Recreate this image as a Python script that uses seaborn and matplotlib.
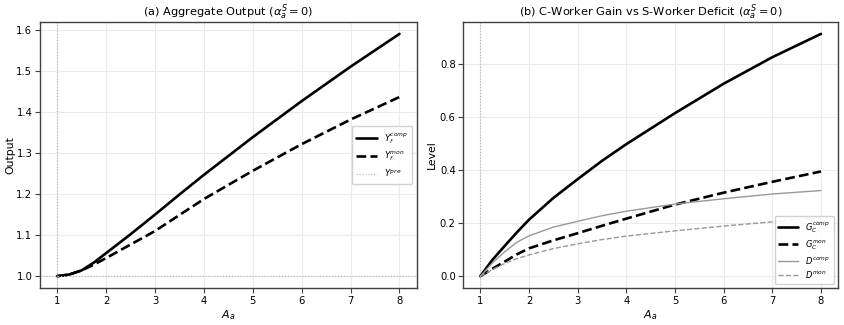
import matplotlib
matplotlib.use("Agg")
import matplotlib.pyplot as plt
import seaborn as sns
import pandas as pd

A = [1.0, 1.25, 1.5, 1.75, 2.0, 2.5, 3.0, 3.5, 4.0, 5.0, 6.0, 7.0, 8.0]

Y_comp = [1.0, 1.004, 1.014, 1.033, 1.056, 1.102, 1.150, 1.199, 1.247, 1.339, 1.427, 1.511, 1.591]
Y_mon = [1.0, 1.004, 1.014, 1.028, 1.044, 1.077, 1.110, 1.149, 1.188, 1.257, 1.322, 1.382, 1.437]
Y_pre = 1.0

G_comp = [0.0, 0.062, 0.114, 0.165, 0.213, 0.295, 0.366, 0.435, 0.498, 0.615, 0.726, 0.826, 0.914]
G_mon = [0.0, 0.028, 0.055, 0.082, 0.105, 0.135, 0.162, 0.190, 0.217, 0.270, 0.315, 0.356, 0.395]
D_comp = [0.0, 0.050, 0.092, 0.128, 0.152, 0.185, 0.207, 0.228, 0.245, 0.272, 0.292, 0.310, 0.323]
D_mon = [0.0, 0.025, 0.048, 0.066, 0.080, 0.104, 0.122, 0.138, 0.151, 0.171, 0.189, 0.205, 0.221]

df = pd.DataFrame({"A": A, "Y_comp": Y_comp, "Y_mon": Y_mon, "G_comp": G_comp,
                   "G_mon": G_mon, "D_comp": D_comp, "D_mon": D_mon})

sns.set_style("whitegrid", {"axes.edgecolor": "0.25", "grid.color": "0.92",
                            "xtick.bottom": True, "ytick.left": True,
                            "text.color": "black", "axes.labelcolor": "black",
                            "xtick.color": "black", "ytick.color": "black"})
plt.rcParams["font.family"] = ["DejaVu Sans"]
plt.rcParams["mathtext.fontset"] = "dejavusans"

fig = plt.figure(figsize=(8.45, 3.25), dpi=100)
ax1 = fig.add_axes([0.0473, 0.113, 0.4457, 0.82])
ax2 = fig.add_axes([0.5483, 0.113, 0.4434, 0.82])

for ax in (ax1, ax2):
    ax.tick_params(axis="both", labelsize=7.2, length=3.5, width=0.8, color="0.25", pad=2)
    for s in ax.spines.values():
        s.set_linewidth(1.0)

# Panel (a)
sns.lineplot(data=df, x="A", y="Y_comp", ax=ax1, color="black", lw=1.9, label=r"$Y_f^{comp}$")
sns.lineplot(data=df, x="A", y="Y_mon", ax=ax1, color="black", lw=1.9, ls="--", label=r"$Y_f^{mon}$")
ax1.axhline(Y_pre, color="0.7", lw=0.8, ls=":", label=r"$Y^{pre}$")
ax1.axvline(1.0, color="0.7", lw=0.8, ls=":")
ax1.set_title(r"(a) Aggregate Output ($\alpha_a^S = 0$)", fontsize=8.2, pad=4)
ax1.set_xlabel(r"$A_a$", fontsize=8, labelpad=2)
ax1.set_ylabel("Output", fontsize=7.8, labelpad=1)
ax1.set_xticks([1, 2, 3, 4, 5, 6, 7, 8])
ax1.set_yticks([1.0, 1.1, 1.2, 1.3, 1.4, 1.5, 1.6])
ax1.legend(loc="center right", fontsize=6.2, frameon=True, framealpha=0.9,
           handlelength=2.4, borderpad=0.5, labelspacing=0.5)

# Panel (b)
sns.lineplot(data=df, x="A", y="G_comp", ax=ax2, color="black", lw=1.9, label=r"$G_C^{comp}$")
sns.lineplot(data=df, x="A", y="G_mon", ax=ax2, color="black", lw=1.9, ls="--", label=r"$G_C^{mon}$")
sns.lineplot(data=df, x="A", y="D_comp", ax=ax2, color="0.6", lw=1.0, label=r"$D^{comp}$")
sns.lineplot(data=df, x="A", y="D_mon", ax=ax2, color="0.6", lw=1.0, ls="--", label=r"$D^{mon}$")
ax2.axvline(1.0, color="0.7", lw=0.8, ls=":")
ax2.set_title(r"(b) C-Worker Gain vs S-Worker Deficit ($\alpha_a^S = 0$)", fontsize=8.2, pad=4)
ax2.set_xlabel(r"$A_a$", fontsize=8, labelpad=2)
ax2.set_ylabel("Level", fontsize=7.8, labelpad=2)
ax2.set_xticks([1, 2, 3, 4, 5, 6, 7, 8])
ax2.set_yticks([0.0, 0.2, 0.4, 0.6, 0.8])
ax2.legend(loc="lower right", fontsize=6.0, frameon=True, framealpha=0.9,
           handlelength=2.4, borderpad=0.45, labelspacing=0.4)

fig.savefig("out.png", dpi=100)
